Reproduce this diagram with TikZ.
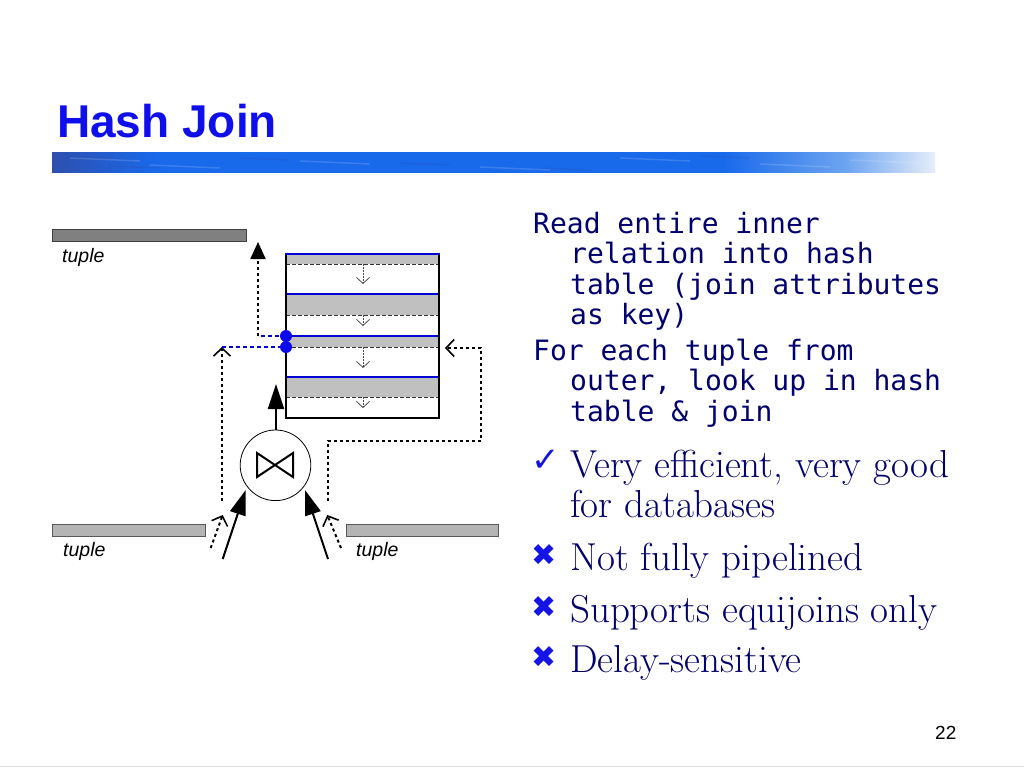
\documentclass[tikz,border=0pt]{standalone}
\usepackage{fontspec}
\newfontfamily\monofont{DejaVu Sans Mono}
\newfontfamily\helv{Liberation Sans}
\newfontfamily\symfont{DejaVu Sans}
\usetikzlibrary{arrows.meta}
\definecolor{navy}{RGB}{0,0,110}
\definecolor{titleblue}{RGB}{15,15,235}
\definecolor{markblue}{RGB}{20,20,230}
\definecolor{lineblue}{RGB}{0,0,210}
\definecolor{dotblue}{RGB}{10,10,235}
\definecolor{bandgray}{RGB}{192,192,192}
\definecolor{darkbar}{RGB}{128,128,128}
\definecolor{lightbar}{RGB}{180,180,180}
\definecolor{sw1}{RGB}{45,80,175}
\definecolor{sw2}{RGB}{25,105,235}
\definecolor{sw3}{RGB}{110,165,240}
\definecolor{sw4}{RGB}{230,238,250}
\pgfdeclarehorizontalshading{swoosh}{100bp}{color(0bp)=(sw1); color(25bp)=(sw1); color(31bp)=(sw2); color(63bp)=(sw2); color(70bp)=(sw3); color(75bp)=(sw4); color(100bp)=(sw4)}
\tikzset{
  dotline/.style={line width=2pt, dash pattern=on 3pt off 3pt, black},
  bluedash/.style={line width=2pt, dash pattern=on 4pt off 3pt, lineblue},
  barb/.style={-{Straight Barb[length=8pt,width=17pt,line width=1.6pt]}},
  bigarrow/.style={line width=2pt, -{Triangle[length=25pt,width=16pt]}},
  toparrow/.style={-{Triangle[length=17pt,width=15pt]}},
  smallarrow/.style={gray!60!black, line width=0.7pt, dash pattern=on 1.5pt off 1.5pt, -{Straight Barb[length=6pt,width=13pt,line width=0.8pt]}},
  band/.style={fill=bandgray, draw=none},
  sep/.style={gray!40!black, line width=0.8pt, dash pattern=on 4pt off 2pt},
  bluesep/.style={lineblue, line width=2pt},
  mono/.style={anchor=base west, inner sep=0pt, text=navy, font=\monofont\fontsize{28}{30}\selectfont},
  serif/.style={anchor=base west, inner sep=0pt, text=navy, font=\fontsize{39}{42}\selectfont},
  bulletmark/.style={anchor=base west, inner sep=0pt, text=markblue},
  crossmark/.style={anchor=center, inner sep=0pt, text=markblue, font=\symfont\fontsize{30}{32}\selectfont},
  tuplelbl/.style={anchor=base west, inner sep=0pt, font=\helv\itshape\fontsize{19.5}{20}\selectfont}
}
\begin{document}
\begin{tikzpicture}[x=1pt,y=-1pt]
\useasboundingbox (0,0) rectangle (1024,768);
\fill[white] (0,0) rectangle (1024,768);
\draw[gray!25, line width=1pt] (0,766.5) -- (1024,766.5);

% title
\node[anchor=base west, inner sep=0pt, text=titleblue, font=\helv\bfseries\fontsize{46}{50}\selectfont] (title) at (57,137) {Hash Join};
\shade[shading=swoosh] (52,152) rectangle (935,172);
\foreach \a/\b in {70/158,150/165,300/161,480/167,620/158,760/164,850/160}
  \draw[white, opacity=0.15, line width=1.5pt] (\a,\b) -- (\a+70,\b+3);
\foreach \a/\b in {60/156,110/166,240/158,400/163,540/168,700/156}
  \draw[sw1, opacity=0.25, line width=1.5pt] (\a,\b) -- (\a+50,\b+2);

% tuple bars
\draw[fill=darkbar, draw=gray!50!black, line width=0.8pt] (52.5,229.5) rectangle (246.5,241);
\node[tuplelbl] (t1) at (62,262) {tuple};
\draw[fill=lightbar, draw=gray!70!black, line width=0.8pt] (52.5,524.5) rectangle (205.5,536);
\node[tuplelbl] (t2) at (63,556) {tuple};
\draw[fill=lightbar, draw=gray!70!black, line width=0.8pt] (346,524.5) rectangle (498,536);
\node[tuplelbl] (t3) at (356,556) {tuple};

% hash table
\fill[band] (286,254) rectangle (439,264);
\fill[band] (286,294) rectangle (439,315);
\fill[band] (286,336) rectangle (439,347);
\fill[band] (286,377) rectangle (439,397);
\foreach \y in {264,315,347,397} \draw[sep] (286,\y) -- (439,\y);
\foreach \y in {254,294,336,377} \draw[bluesep] (286,\y) -- (439,\y);
\draw[line width=2pt, line join=miter] (286,254) -- (286,418) -- (439,418) -- (439,254);
\draw[bluesep] (285,254) -- (440,254);
\foreach \a/\b in {264/284,315/326,347/368,397/408}
  \draw[smallarrow] (363,\a) -- (363,\b);

% coordinates
\coordinate (d1) at (286,336);
\coordinate (d2) at (286,347);
\coordinate (c1) at (258,336);
\coordinate (up1) at (258,242);
\coordinate (c2) at (222,347);
\coordinate (l0) at (222,501);
\coordinate (r0) at (328,501);
\coordinate (r1) at (328,441);
\coordinate (r2) at (481,441);
\coordinate (r3) at (481,348);
\coordinate (rin) at (445,348);

% dotted connectors
\draw[dotline, toparrow] (c1) -- (up1);
\draw[bluedash] (d1) -- (c1);
\draw[dotline, barb] (l0) -- (c2);
\draw[bluedash] (c2) -- (d2);
\draw[dotline, barb] (r0) -- (r1) -- (r2) -- (r3) -- (rin);

\fill[dotblue] (d1) circle (6);
\fill[dotblue] (d2) circle (6);

% join operator
\node[circle, draw, line width=0.8pt, minimum size=70.6pt, inner sep=0pt] (join) at (275.5,465.3) {};
\draw[line width=2pt, line join=miter] (257,453) -- (257,477) -- (293,453) -- (293,477) -- cycle;
\coordinate (jtop) at (276,384);
\draw[bigarrow] (276,430) -- (jtop);

\coordinate (la) at (222.7,559);
\coordinate (lb) at (245.7,490);
\coordinate (ra) at (328,559);
\coordinate (rb) at (305,490);
\draw[bigarrow] (la) -- (lb);
\draw[bigarrow] (ra) -- (rb);
\coordinate (lda) at (210.7,548);
\coordinate (ldb) at (222.7,515);
\coordinate (rda) at (341,548);
\coordinate (rdb) at (327.3,515);
\draw[dotline, barb] (lda) -- (ldb);
\draw[dotline, barb] (rda) -- (rdb);

% right text
\node[mono] (m1) at (533,233) {Read entire inner};
\node[mono] (m2) at (570,263.5) {relation into hash};
\node[mono] (m3) at (570,294) {table (join attributes};
\node[mono] (m4) at (570,324.5) {as key)};
\node[mono] (m5) at (533,360) {For each tuple from};
\node[mono] (m6) at (570,390.5) {outer, look up in hash};
\node[mono] (m7) at (570,421) {table \& join};

\node[bulletmark, font=\symfont\fontsize{34}{36}\selectfont] (k1) at (531,471) {✓};
\node[serif] (s1) at (570,477) {Very efficient, very good};
\node[serif] (s2) at (570,517) {for databases};
\node[crossmark] (k2) at (544,555) {✖};
\node[serif] (s3) at (570,570) {Not fully pipelined};
\node[crossmark] (k3) at (544,607) {✖};
\node[serif] (s4) at (570,622) {Supports equijoins only};
\node[crossmark] (k4) at (544,657) {✖};
\node[serif] (s5) at (570,672) {Delay-sensitive};

\node[anchor=base west, inner sep=0pt, font=\helv\fontsize{19}{20}\selectfont] (pg) at (935,739) {22};
\end{tikzpicture}
\end{document}
